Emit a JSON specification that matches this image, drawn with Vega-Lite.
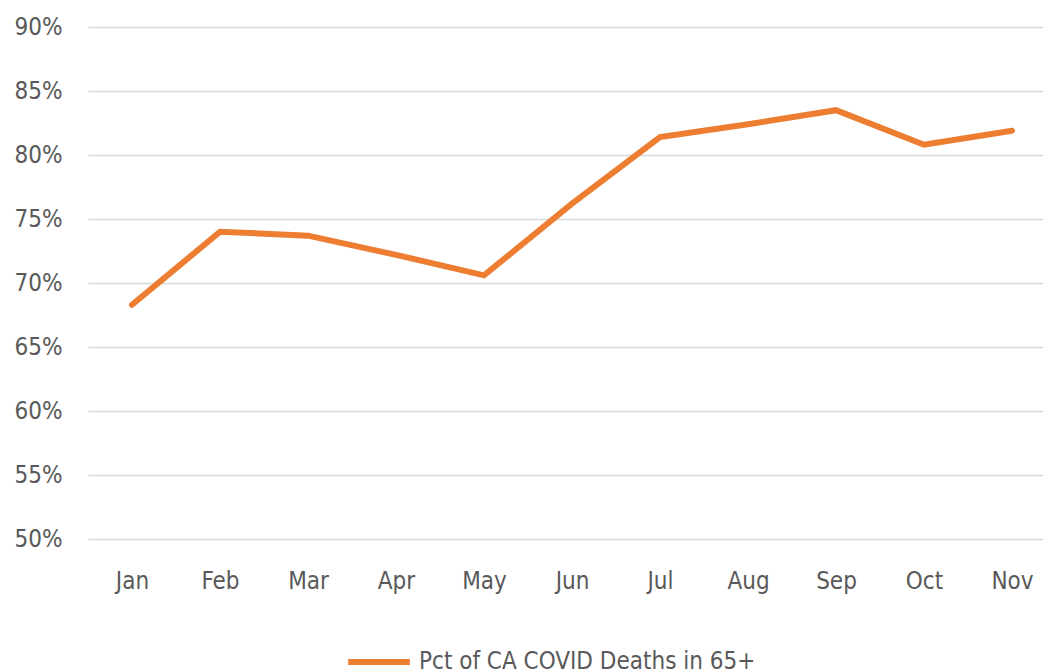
{
  "$schema": "https://vega.github.io/schema/vega-lite/v6.json",
  "autosize": {"type": "none"},
  "padding": {"left": 88, "top": 27, "right": 0, "bottom": 133},
  "width": 968,
  "height": 512,
  "background": "white",
  "data": {
    "values": [
      {"month": "Jan", "pct": 0.683, "series": "Pct of CA COVID Deaths in 65+"},
      {"month": "Feb", "pct": 0.740, "series": "Pct of CA COVID Deaths in 65+"},
      {"month": "Mar", "pct": 0.737, "series": "Pct of CA COVID Deaths in 65+"},
      {"month": "Apr", "pct": 0.722, "series": "Pct of CA COVID Deaths in 65+"},
      {"month": "May", "pct": 0.706, "series": "Pct of CA COVID Deaths in 65+"},
      {"month": "Jun", "pct": 0.762, "series": "Pct of CA COVID Deaths in 65+"},
      {"month": "Jul", "pct": 0.814, "series": "Pct of CA COVID Deaths in 65+"},
      {"month": "Aug", "pct": 0.824, "series": "Pct of CA COVID Deaths in 65+"},
      {"month": "Sep", "pct": 0.835, "series": "Pct of CA COVID Deaths in 65+"},
      {"month": "Oct", "pct": 0.808, "series": "Pct of CA COVID Deaths in 65+"},
      {"month": "Nov", "pct": 0.819, "series": "Pct of CA COVID Deaths in 65+"}
    ]
  },
  "config": {
    "view": {"stroke": null},
    "font": "DejaVu Sans Condensed"
  },
  "mark": {"type": "line", "strokeWidth": 6, "strokeJoin": "miter", "strokeCap": "round"},
  "encoding": {
    "x": {
      "field": "month",
      "type": "ordinal",
      "sort": null,
      "scale": {"type": "point", "padding": 0.5},
      "axis": {
        "title": null,
        "domain": false,
        "ticks": false,
        "grid": false,
        "labelAngle": 0,
        "labelFont": "DejaVu Sans Condensed",
        "labelFontSize": 24,
        "labelColor": "#595959",
        "labelPadding": 30
      }
    },
    "y": {
      "field": "pct",
      "type": "quantitative",
      "scale": {"domain": [0.5, 0.9], "nice": false, "zero": false},
      "axis": {
        "title": null,
        "format": ".0%",
        "values": [0.5, 0.55, 0.6, 0.65, 0.7, 0.75, 0.8, 0.85, 0.9],
        "domain": false,
        "ticks": false,
        "grid": true,
        "gridColor": "#d9d9d9",
        "gridWidth": 1.5,
        "labelFont": "DejaVu Sans Condensed",
        "labelFontSize": 24,
        "labelColor": "#595959",
        "labelPadding": 26
      }
    },
    "color": {
      "field": "series",
      "type": "nominal",
      "scale": {"range": ["#ED7D31"]},
      "legend": {
        "title": null,
        "orient": "none",
        "legendX": 257,
        "legendY": 601,
        "symbolType": "stroke",
        "symbolSize": 3800,
        "symbolStrokeWidth": 6,
        "labelFont": "DejaVu Sans Condensed",
        "labelFontSize": 24,
        "labelColor": "#595959",
        "labelLimit": 600,
        "labelOffset": 6
      }
    }
  }
}
